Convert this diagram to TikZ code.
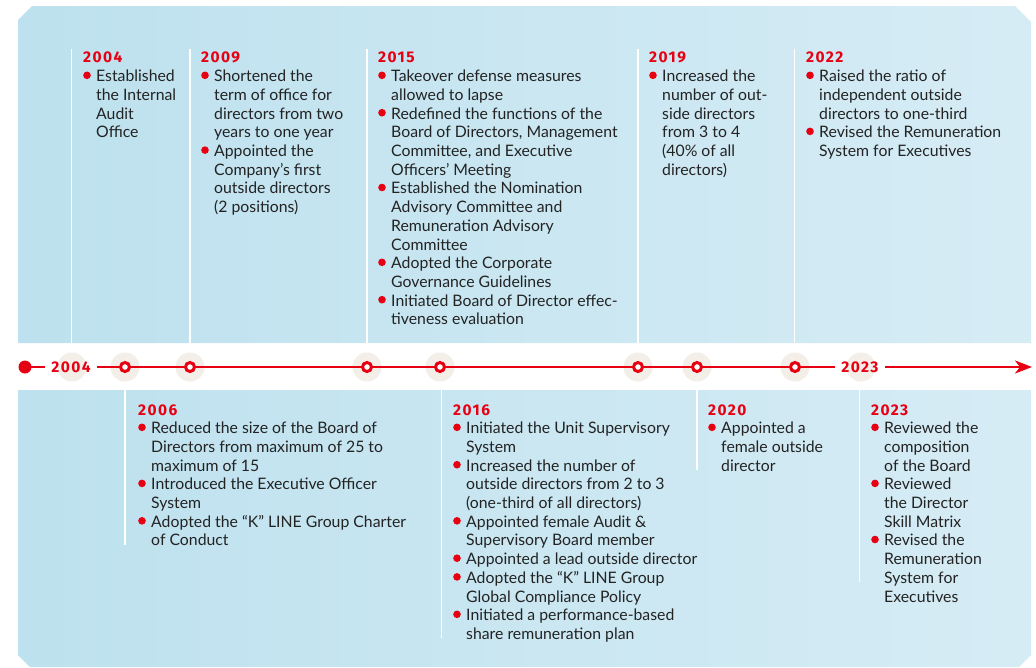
\documentclass[tikz,border=0pt]{standalone}
\usepackage{fontspec}
\setmainfont{Lato}
\newfontfamily\yearfont{Fira Sans}[LetterSpace=9]
\usetikzlibrary{arrows.meta}

\definecolor{kred}{RGB}{230,0,18}
\definecolor{halo}{RGB}{243,238,232}
\definecolor{panelL}{RGB}{189,225,238}
\definecolor{panelR}{RGB}{214,236,245}
\definecolor{ink}{RGB}{35,35,35}

% red dot in front of an entry, and the indent of its follow-on lines
\newcommand\bul{\makebox[13pt][l]{\rule{0pt}{13pt}\tikz[baseline=0pt]\fill[kred] (3.8pt,6.4pt) circle[radius=3.8pt];}}
\newcommand\ind{\hspace*{13pt}}

\begin{document}
\begin{tikzpicture}[x=1pt,y=-1pt,
  year/.style={font=\yearfont\bfseries\fontsize{15.5}{15.5}\selectfont, text=kred, inner sep=0pt, anchor=base west},
  items/.style={font=\fontsize{15.8}{18.7}\selectfont, text=ink, align=left, inner sep=0pt, anchor=north west},
  halo/.style={circle, fill=halo, minimum size=29pt, inner sep=0pt},
  ring/.style={circle, draw=kred, line width=3pt, fill=white, minimum size=9pt, inner sep=0pt},
  sep/.style={white, line width=1.5pt},
  tl/.style={kred, line width=2.6pt}]
\useasboundingbox (0,0) rectangle (1036,667);

% panels above and below the line
\shade[left color=panelL, right color=panelR]
  (18,20) -- (32,6) -- (1015,6) -- (1031,22) -- (1031,343) -- (18,343) -- cycle;
\shade[left color=panelL, right color=panelR]
  (18,390) -- (1031,390) -- (1031,655) -- (1019,667) -- (30,667) -- (18,655) -- cycle;

\foreach \x in {71.5,190,367,638,794.5}
  \draw[sep] (\x,49) -- (\x,343);
\foreach \x/\b in {125/545,441.5/638,697/470,859.5/582}
  \draw[sep] (\x,390) -- (\x,\b);

% time line
\foreach \yr/\x in {2004/72,2006/125,2009/190,2015/367,2016/440,2019/638,2020/697,2022/795,2023/861}
  \node[halo] (h\yr) at (\x,367) {};
\fill[kred] (25,367) circle (6.5) coordinate (start);
\coordinate (tip) at (1032,367);
\node[year, anchor=center, inner xsep=6pt] (lab04) at (71,367) {2004};
\node[year, anchor=center, inner xsep=6pt] (lab23) at (860,367) {2023};
\draw[tl] (start) -- (lab04.west);
\draw[tl] (lab04.east) -- (lab23.west);
\draw[tl, -{Stealth[length=17pt,width=13pt,inset=5pt]}] (lab23.east) -- (tip);
\foreach \yr in {2006,2009,2015,2016,2019,2020,2022}
  \node[ring] (m\yr) at (h\yr) {};

% entries above
\node[year] (y2004) at (83,62.5) {2004};
\node[items] (t2004) at (83,68.5) {\bul Established\\ \ind the Internal\\ \ind Audit\\ \ind Office};

\node[year] (y2009) at (201,62.5) {2009};
\node[items] (t2009) at (201,68.5) {\bul Shortened the\\ \ind term of office for\\ \ind directors from two\\ \ind years to one year\\
  \bul Appointed the\\ \ind Company’s first\\ \ind outside directors\\ \ind (2 positions)};

\node[year] (y2015) at (378,62.5) {2015};
\node[items] (t2015) at (378,68.5) {\bul Takeover defense measures\\ \ind allowed to lapse\\
  \bul Redefined the functions of the\\ \ind Board of Directors, Management\\ \ind Committee, and Executive\\ \ind Officers’ Meeting\\
  \bul Established the Nomination\\ \ind Advisory Committee and\\ \ind Remuneration Advisory\\ \ind Committee\\
  \bul Adopted the Corporate\\ \ind Governance Guidelines\\
  \bul Initiated Board of Director effec-\\ \ind tiveness evaluation};

\node[year] (y2019) at (649,62.5) {2019};
\node[items] (t2019) at (649,68.5) {\bul Increased the\\ \ind number of out-\\ \ind side directors\\ \ind from 3 to 4\\ \ind (40\% of all\\ \ind directors)};

\node[year] (y2022) at (806,62.5) {2022};
\node[items] (t2022) at (806,68.5) {\bul Raised the ratio of\\ \ind independent outside\\ \ind directors to one-third\\
  \bul Revised the Remuneration\\ \ind System for Executives};

% entries below
\node[year] (y2006) at (138,415) {2006};
\node[items] (t2006) at (138,420.5) {\bul Reduced the size of the Board of\\ \ind Directors from maximum of 25 to\\ \ind maximum of 15\\
  \bul Introduced the Executive Officer\\ \ind System\\
  \bul Adopted the “K” LINE Group Charter\\ \ind of Conduct};

\node[year] (y2016) at (453,415) {2016};
\node[items] (t2016) at (453,420.5) {\bul Initiated the Unit Supervisory\\ \ind System\\
  \bul Increased the number of\\ \ind outside directors from 2 to 3\\ \ind (one-third of all directors)\\
  \bul Appointed female Audit \&\\ \ind Supervisory Board member\\
  \bul Appointed a lead outside director\\
  \bul Adopted the “K” LINE Group\\ \ind Global Compliance Policy\\
  \bul Initiated a performance-based\\ \ind share remuneration plan};

\node[year] (y2020) at (708,415) {2020};
\node[items] (t2020) at (708,420.5) {\bul Appointed a\\ \ind female outside\\ \ind director};

\node[year] (y2023) at (871,415) {2023};
\node[items] (t2023) at (871,420.5) {\bul Reviewed the\\ \ind composition\\ \ind of the Board\\
  \bul Reviewed\\ \ind the Director\\ \ind Skill Matrix\\
  \bul Revised the\\ \ind Remuneration\\ \ind System for\\ \ind Executives};
\end{tikzpicture}
\end{document}
